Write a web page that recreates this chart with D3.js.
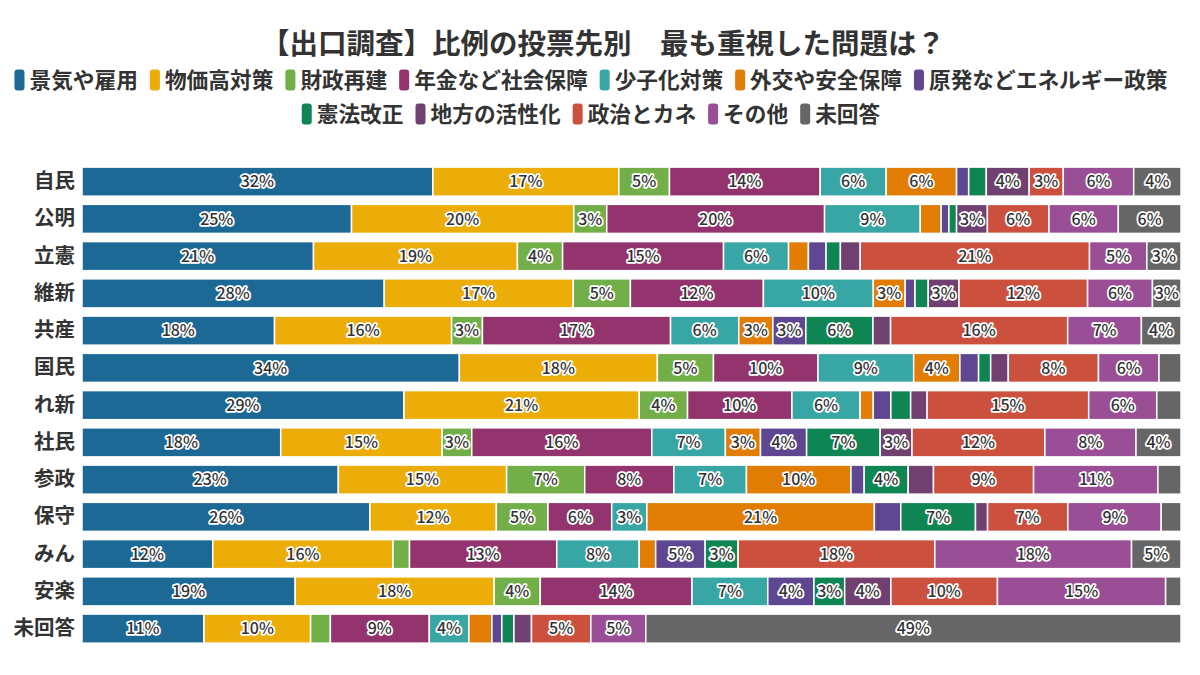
<!DOCTYPE html>
<html><head><meta charset="utf-8">
<script src="https://cdn.jsdelivr.net/npm/d3@7/dist/d3.min.js"></script>
<style>
html,body{margin:0;padding:0;background:#fff;}
svg{display:block;font-family:"Noto Sans CJK JP","Noto Sans",sans-serif;}
</style></head>
<body><svg id="chart" width="1200" height="675"></svg>
<script>
const parties = ["自民","公明","立憲","維新","共産","国民","れ新","社民","参政","保守","みん","安楽","未回答"];
const categories = ["景気や雇用","物価高対策","財政再建","年金など社会保障","少子化対策","外交や安全保障","原発などエネルギー政策","憲法改正","地方の活性化","政治とカネ","その他","未回答"];
const colors = ["#1D6996","#EDAD08","#73AF48","#94346E","#38A6A5","#E17C05","#5F4690","#0F8554","#6F4070","#CC503E","#994E95","#666666"];

const keikiKoyo   = [31.9,24.5,21.0,27.5,17.5,34.3,29.3,18.1,23.3,26.2,11.9,19.4,11.1];
const bukkadaka   = [16.9,20.2,18.5,17.2,16.1,18.0,21.4,14.7,15.3,11.5,16.4,18.1,9.7];
const zaisei      = [4.6,3.0,4.1,5.2,2.8,5.1,4.4,2.7,7.1,4.7,1.5,4.2,1.8];
const nenkin      = [13.7,19.8,14.6,12.1,17.1,9.5,9.5,16.4,8.1,5.8,13.4,13.8,9.0];
const shoushika   = [6.0,8.7,5.9,10.0,6.2,8.7,6.2,6.7,6.6,3.2,7.5,6.9,3.6];
const gaikou      = [6.4,1.9,1.8,2.9,3.1,4.2,1.2,3.2,9.5,20.7,1.5,0,2.1];
const genpatsu    = [1.1,0.7,1.6,0.9,3.0,1.7,1.6,4.2,1.2,2.4,4.5,4.2,0.9];
const kenpou      = [1.6,0.7,1.3,1.2,6.1,1.1,1.8,6.7,4.0,6.8,3.0,2.8,1.1];
const chihou      = [3.9,2.8,1.8,2.8,1.6,1.6,1.5,2.9,2.3,1.1,0,4.2,1.6];
const seijiKane   = [3.1,5.6,20.8,11.7,16.1,8.2,14.7,12.1,9.1,7.3,17.9,9.7,5.4];
const sonota      = [6.4,6.3,5.2,5.9,6.7,5.5,6.2,8.3,11.3,8.5,17.9,15.3,5.0];
const mikaitou    = [4.3,5.7,3.1,2.6,3.6,2.0,2.2,4.1,2.1,1.8,4.5,1.4,48.7];

const series = [keikiKoyo,bukkadaka,zaisei,nenkin,shoushika,gaikou,genpatsu,kenpou,chihou,seijiKane,sonota,mikaitou];
const titleText = "【出口調査】比例の投票先別　最も重視した問題は？";

const rows = parties.map((p,i)=>{
  const r = {party:p};
  categories.forEach((c,j)=>{ r[c] = series[j][i]; });
  return r;
});

const svg = d3.select("#chart");
const textColor = "#333333";

// Title
svg.append("text").attr("x",603).attr("y",54).attr("text-anchor","middle")
  .attr("font-size",28.5).attr("font-weight",700).attr("fill",textColor).text(titleText);

// Legend
const legendRows = [categories.slice(0,7), categories.slice(7)];
const legendY = [80,114];
const legendFont = 21.7, swW = 10, swH = 21, swGap = 5, itemGap = 12;
legendRows.forEach((items,ri)=>{
  const g = svg.append("g");
  let x = 0;
  items.forEach(c=>{
    const idx = categories.indexOf(c);
    const ig = g.append("g").attr("transform",`translate(${x},0)`);
    ig.append("rect").attr("x",0).attr("y",-swH/2).attr("width",swW).attr("height",swH)
      .attr("rx",3).attr("fill",colors[idx]);
    const t = ig.append("text").attr("x",swW+swGap).attr("y",0).attr("dy","0.36em")
      .attr("font-size",legendFont).attr("font-weight",700).attr("fill",textColor).text(c);
    x += swW + swGap + t.node().getComputedTextLength() + itemGap;
  });
  const total = x - itemGap;
  g.attr("transform",`translate(${591-total/2},${legendY[ri]})`);
});

// Scales
const xScale = d3.scaleLinear().domain([0,1]).range([82,1181]);
const yScale = d3.scaleBand().domain(parties).range([163,163+37.25*13]).paddingInner(0.22).paddingOuter(0.11);

const stack = d3.stack().keys(categories).offset(d3.stackOffsetExpand);
const stacked = stack(rows);

// Row labels via axis
const yAxis = d3.axisLeft(yScale).tickSize(0).tickPadding(7);
const ag = svg.append("g").attr("transform","translate(82,0)").call(yAxis);
ag.select(".domain").remove();
ag.selectAll("text").attr("font-size",20.5).attr("font-weight",700).attr("fill",textColor)
  .attr("font-family","\"Noto Sans CJK JP\",sans-serif");

const layers = svg.append("g").selectAll("g").data(stacked).join("g")
  .attr("fill",(d,i)=>colors[i]);
layers.selectAll("rect").data(d=>d).join("rect")
  .attr("x",d=>xScale(d[0]))
  .attr("width",d=>Math.max(0,xScale(d[1])-xScale(d[0])))
  .attr("y",d=>yScale(d.data.party))
  .attr("height",yScale.bandwidth())
  .attr("stroke","#fff").attr("stroke-width",1.5);

// Labels
const lg = svg.append("g");
stacked.forEach((layer,j)=>{
  layer.forEach(d=>{
    const v = d.data[categories[j]];
    const r = Math.round(v);
    if (r >= 3) {
      lg.append("text")
        .attr("x",(xScale(d[0])+xScale(d[1]))/2)
        .attr("y",yScale(d.data.party)+yScale.bandwidth()/2)
        .attr("dy","0.36em").attr("text-anchor","middle")
        .attr("font-size",16).attr("font-weight",500)
        .attr("fill",textColor).attr("stroke","#fff").attr("stroke-width",3.5)
        .attr("stroke-linejoin","round").attr("paint-order","stroke")
        .text(r+"%");
    }
  });
});
</script></body></html>
